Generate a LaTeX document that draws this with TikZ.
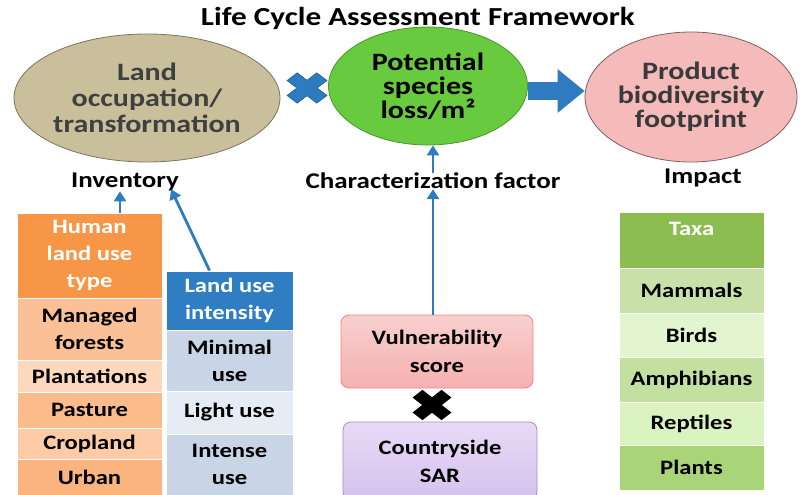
\documentclass[tikz,border=0pt]{standalone}
\usepackage{fontspec}
\setmainfont{Carlito}[FakeStretch=1.2]
\usetikzlibrary{positioning}
\usetikzlibrary{shapes.geometric}
\usetikzlibrary{arrows.meta}
\definecolor{lcablue}{RGB}{46,123,192}
\definecolor{lcabluedark}{RGB}{30,90,150}
\definecolor{tan}{RGB}{201,191,155}
\definecolor{tanline}{RGB}{125,115,95}
\definecolor{leaf}{RGB}{104,202,62}
\definecolor{leafline}{RGB}{75,150,40}
\definecolor{rose}{RGB}{245,186,186}
\definecolor{roseline}{RGB}{125,95,95}
\definecolor{darktext}{RGB}{64,64,64}
% orange table
\definecolor{orhead}{RGB}{247,150,70}
\definecolor{orA}{RGB}{251,192,150}
\definecolor{orB}{RGB}{253,216,188}
\definecolor{orC}{RGB}{251,187,139}
\definecolor{orD}{RGB}{253,203,166}
\definecolor{orE}{RGB}{251,180,126}
% blue table
\definecolor{bluehead}{RGB}{47,125,194}
\definecolor{blueA}{RGB}{201,213,230}
\definecolor{blueB}{RGB}{230,236,245}
% green table
\definecolor{grhead}{RGB}{140,189,80}
\definecolor{grA}{RGB}{201,225,168}
\definecolor{grB}{RGB}{227,245,206}
\definecolor{grC}{RGB}{196,224,160}
\definecolor{grD}{RGB}{218,243,192}
\definecolor{grE}{RGB}{169,212,119}

\begin{document}
\begin{tikzpicture}[x=1pt,y=-1pt,
flow/.style={draw=lcablue,line width=2.8pt,-{Triangle[length=10pt,width=12pt]}},
bigarrow/.style={draw=lcablue,line width=18pt,-{Triangle[length=27pt,width=42pt]}},
oval/.style={ellipse,line width=0.8pt,inner sep=0pt,align=center,font=\fontsize{25}{26}\selectfont\bfseries},
tag/.style={inner sep=0pt,font=\fontsize{22.5}{24}\selectfont\bfseries},
cell/.style={draw=white,line width=1pt,inner sep=0pt,align=center,font=\fontsize{20.5}{27}\selectfont\bfseries},
orcell/.style={cell,minimum width=145},
bluecell/.style={cell,minimum width=127},
grcell/.style={cell,minimum width=145},
box/.style={rounded corners=8pt,line width=0.8pt,minimum width=192,inner sep=0pt,align=center,font=\fontsize{20.5}{28}\selectfont\bfseries},
timesmark/.pic={\path[pic actions,rotate=45] (-0.34,1) -- (0.34,1) -- (0.34,0.34) -- (1,0.34) -- (1,-0.34) -- (0.34,-0.34) -- (0.34,-1) -- (-0.34,-1) -- (-0.34,-0.34) -- (-1,-0.34) -- (-1,0.34) -- (-0.34,0.34) -- cycle;}
]
\useasboundingbox (0,0) rectangle (801,495);

\node[font=\fontsize{26}{28}\selectfont\bfseries] (title) at (418,18) {Life Cycle Assessment Framework};

% framework
\node[oval,fill=tan,draw=tanline,text=darktext,minimum width=266,minimum height=128] (land) at (147,98) {Land\\occupation/\\transformation};
\node[oval,fill=leaf,draw=leafline,minimum width=199,minimum height=118,font=\fontsize{25}{24}\selectfont\bfseries] (pot) at (428,86) {Potential\\species\\loss/m²};
\node[oval,fill=rose,draw=roseline,text=darktext!90!black,minimum width=212,minimum height=130,font=\fontsize{25}{24}\selectfont\bfseries] (prod) at (691,97) {Product\\biodiversity\\footprint};

\pic[fill=lcablue,draw=lcabluedark,line width=0.6pt,xscale=21,yscale=16] at (307,88) {timesmark};
\coordinate (mid) at (0,91);
\draw[bigarrow] (pot.east |- mid) -- (prod.west |- mid);

\node[tag] (inv) at (125,182) {Inventory};
\node[tag] (charf) at (433,181) {Characterization factor};
\node[tag] (imp) at (703,178) {Impact};

\draw[flow] (charf.north) -- (pot.south -| charf.north);

% land use type
\node[orcell,fill=orhead,text=white,minimum height=85] (human) at (89.5,255.5) {Human\\land use\\type};
\node[orcell,fill=orA,minimum height=62] (forest) at (89.5,329) {Managed\\forests};
\node[orcell,fill=orB,minimum height=32] (plant) at (89.5,376) {Plantations};
\node[orcell,fill=orC,minimum height=36] (pasture) at (89.5,410) {Pasture};
\node[orcell,fill=orD,minimum height=31] (crop) at (89.5,443.5) {Cropland};
\node[orcell,fill=orE,minimum height=36] (urban) at (89.5,477) {Urban};

% land use intensity
\node[bluecell,fill=bluehead,text=white,minimum height=59] (intens) at (229.5,300.5) {Land use\\intensity};
\node[bluecell,fill=blueA,minimum height=61] (minimal) at (229.5,360.5) {Minimal\\use};
\node[bluecell,fill=blueB,minimum height=43] (light) at (229.5,412.5) {Light use};
\node[bluecell,fill=blueA,minimum height=61] (intense) at (229.5,464.5) {Intense\\use};

\draw[flow] ([xshift=30.5]human.north) -- ([xshift=-5]inv.south);
\draw[flow] ([xshift=-20]intens.north) -- ([xshift=-8,yshift=2]inv.south east);

% characterization factor
\node[box,top color=rose!70!white,bottom color=rose!95!red,draw=rose!70!red,minimum height=73] (vuln) at (437,351.5) {Vulnerability\\score};
\node[box,top color={rgb,255:red,232;green,218;blue,246},bottom color={rgb,255:red,214;green,194;blue,236},draw={rgb,255:red,165;green,140;blue,200},minimum width=194,minimum height=78] (sar) at (440,461) {Countryside\\SAR};
\pic[fill=black,xscale=20.5,yscale=16] at (432,405) {timesmark};
\draw[flow] (vuln.north -| charf) -- (charf.south);

% taxa
\node[grcell,fill=grhead,text=white,minimum height=56,text depth=22pt] (taxa) at (691.5,240) {Taxa};
\node[grcell,fill=grA,minimum height=45] (mammal) at (691.5,290.5) {Mammals};
\node[grcell,fill=grB,minimum height=44] (bird) at (691.5,335) {Birds};
\node[grcell,fill=grC,minimum height=45] (amphib) at (691.5,379.5) {Amphibians};
\node[grcell,fill=grD,minimum height=43] (reptile) at (691.5,423.5) {Reptiles};
\node[grcell,fill=grE,minimum height=45] (plants) at (691.5,467.5) {Plants};
\end{tikzpicture}
\end{document}
